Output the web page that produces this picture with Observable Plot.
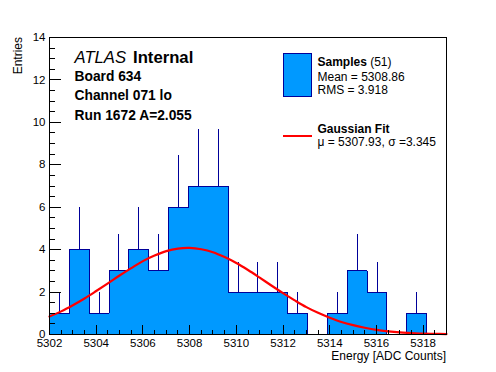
<!DOCTYPE html>
<html><head><meta charset="utf-8">
<script src="https://cdn.jsdelivr.net/npm/d3@7"></script>
<script src="https://cdn.jsdelivr.net/npm/@observablehq/plot@0.6"></script>
<style>
body{margin:0;background:#fff;}
svg{font-family:"Liberation Sans",Arial,Helvetica,sans-serif;}
</style>
</head><body><div id="chart"></div>
<script>
// Histogram bin edges (ADC counts) and entries per bin
const binEdges = [5302, 5302.85, 5303.7, 5304.55, 5305.4, 5306.25, 5307.1, 5307.95, 5308.8, 5309.65,
  5310.5, 5311.35, 5312.2, 5313.05, 5313.9, 5314.75, 5315.6, 5316.45, 5317.3, 5318.15, 5319];
const binCounts = [1, 4, 1, 3, 4, 3, 6, 7, 7, 2, 2, 2, 1, 0, 1, 3, 2, 0, 1, 0];

// Gaussian fit curve
const fitX = [5302, 5302.5, 5303, 5303.5, 5304, 5304.5, 5305, 5305.5, 5306, 5306.5, 5307, 5307.5,
  5308, 5308.5, 5309, 5309.5, 5310, 5310.5, 5311, 5311.5, 5312, 5312.5, 5313, 5313.5, 5314,
  5314.5, 5315, 5315.5, 5316, 5316.5, 5317, 5317.5, 5318, 5318.5, 5319];
const fitY = [0.85, 1.09, 1.38, 1.70, 2.05, 2.41, 2.78, 3.13, 3.46, 3.72, 3.93, 4.05,
  4.08, 4.02, 3.88, 3.65, 3.37, 3.04, 2.68, 2.31, 1.95, 1.61, 1.29, 1.02, 0.79,
  0.59, 0.44, 0.32, 0.22, 0.15, 0.10, 0.07, 0.04, 0.03, 0.02];

// Axis ticks
const xMajorTicks = [5302, 5304, 5306, 5308, 5310, 5312, 5314, 5316, 5318];
const xMinorTicks = d3.range(5302, 5319.01, 0.5);
const yMajorTicks = [0, 2, 4, 6, 8, 10, 12, 14];
const yMinorTicks = d3.range(0, 14.01, 0.5);

// Text
const titleLines = ["Board 634", "Channel 071 lo", "Run 1672 A=2.055"];
const legendSamples = {name: "Samples", n: "(51)", lines: ["Mean = 5308.86", "RMS = 3.918"]};
const legendFit = {name: "Gaussian Fit", line: "\u03bc = 5307.93, \u03c3 =3.345"};

const W = 496, H = 372, mL = 49, mR = 50, mT = 37, mB = 38;
const pw = W - mL - mR, ph = H - mT - mB;

const bins = binCounts.map((c, i) => ({x1: binEdges[i], x2: binEdges[i + 1], c}));
const outline = [{x: binEdges[0], y: 0}, ...binCounts.map((c, i) => ({x: binEdges[i], y: c})), {x: binEdges[binEdges.length - 1], y: 0}];
const errs = bins.filter(b => b.c > 0).map(b => ({x: (b.x1 + b.x2) / 2, y1: b.c, y2: b.c + Math.sqrt(b.c)}));
const fit = fitX.map((x, i) => ({x, y: fitY[i]}));

const fill = "#0099ff", dark = "#000099";
const crisp = {shapeRendering: "crispEdges"};

const plot = Plot.plot({
  width: W, height: H,
  marginLeft: mL, marginRight: mR, marginTop: mT, marginBottom: mB,
  style: {fontFamily: '"Liberation Sans", Arial, sans-serif', background: "white"},
  x: {domain: [5302, 5319]},
  y: {domain: [0, 14]},
  marks: [
    Plot.areaY(outline, {x: "x", y: "y", curve: "step-after", fill, ...crisp}),
    Plot.ruleX(errs, {x: "x", y1: "y1", y2: "y2", stroke: dark, strokeWidth: 1, ...crisp}),
    Plot.line(outline, {x: "x", y: "y", curve: "step-after", stroke: dark, strokeWidth: 1, ...crisp}),
    Plot.line(fit, {x: "x", y: "y", curve: "catmull-rom", stroke: "#ff0000", strokeWidth: 2.2}),
    Plot.tickX(xMinorTicks, {x: d => d, insetTop: ph - 4.5, stroke: "black", ...crisp}),
    Plot.tickX(xMajorTicks, {x: d => d, insetTop: ph - 9, stroke: "black", ...crisp}),
    Plot.tickY(yMinorTicks, {y: d => d, insetRight: pw - 6, stroke: "black", ...crisp}),
    Plot.tickY(yMajorTicks, {y: d => d, insetRight: pw - 12, stroke: "black", ...crisp}),
    Plot.frame({stroke: "black", ...crisp}),
    Plot.axisX({ticks: xMajorTicks, tickSize: 0, tickPadding: 4, tickFormat: "d", fontSize: 11.5, label: null, fill: "black"}),
    Plot.axisY({ticks: yMajorTicks, tickSize: 0, tickPadding: 4, tickFormat: "d", fontSize: 11.5, label: null, fill: "black"})
  ]
});
document.getElementById("chart").appendChild(plot);

const svg = d3.select(plot);
const g = svg.append("g").attr("fill", "black").attr("text-anchor", "start");
// axis titles
g.append("text").attr("x", W - mR).attr("y", 360).attr("text-anchor", "end").attr("font-size", 12).text("Energy [ADC Counts]");
g.append("text").attr("transform", `translate(22,${mT}) rotate(-90)`).attr("text-anchor", "end").attr("font-size", 12).text("Entries");
// ATLAS label
g.append("text").attr("x", 74.5).attr("y", 63).attr("font-size", 16.7).attr("font-style", "italic").text("ATLAS");
g.append("text").attr("x", 133).attr("y", 63).attr("font-size", 16.7).attr("font-weight", "bold").text("Internal");
titleLines.forEach((t, i) => g.append("text").attr("x", 74.5).attr("y", 81 + i * 19.3).attr("font-size", 13.8).attr("font-weight", "bold").text(t));
// legend
g.append("rect").attr("x", 283.5).attr("y", 53.5).attr("width", 28).attr("height", 43).attr("fill", fill).attr("stroke", dark).attr("shape-rendering", "crispEdges");
const s = g.append("text").attr("x", 317.5).attr("y", 65.5).attr("font-size", 12);
s.append("tspan").attr("font-weight", "bold").text(legendSamples.name);
s.append("tspan").text(" " + legendSamples.n);
legendSamples.lines.forEach((t, i) => g.append("text").attr("x", 317.5).attr("y", 80.5 + i * 13.5).attr("font-size", 12).text(t));
g.append("line").attr("x1", 283).attr("x2", 312).attr("y1", 136).attr("y2", 136).attr("stroke", "#ff0000").attr("stroke-width", 2);
g.append("text").attr("x", 317.5).attr("y", 132.5).attr("font-size", 12).attr("font-weight", "bold").text(legendFit.name);
g.append("text").attr("x", 317.5).attr("y", 146).attr("font-size", 12).text(legendFit.line);
</script>
</body></html>
